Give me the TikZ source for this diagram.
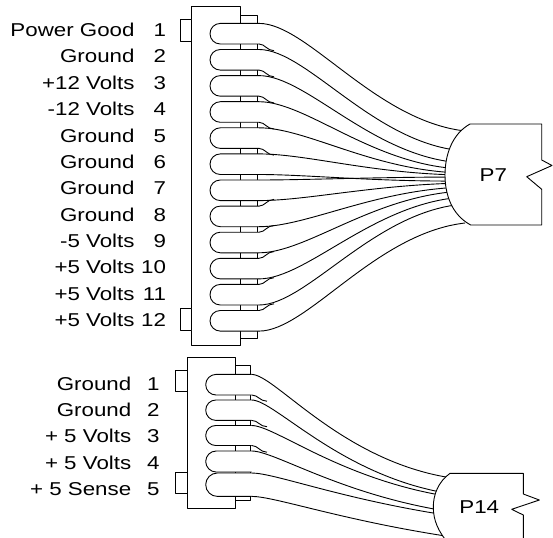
\documentclass[tikz,border=0pt]{standalone}
\usepackage{fontspec}
\setmainfont{Liberation Sans}[FakeStretch=1.2]
\begin{document}
\begin{tikzpicture}[x=1pt,y=-1pt,line width=0.9pt,line join=round,
  lbl/.style={font=\fontsize{18.6}{20}\selectfont, inner sep=0pt, anchor=base east},
  part/.style={draw, fill=white},
  ptxt/.style={font=\fontsize{18.6}{20}\selectfont, inner sep=0pt}]
\useasboundingbox (0,0) rectangle (553,537);
\clip (0,0) rectangle (553,537);

% ---------- labels P7 ----------
\foreach \i/\t in {1/Power Good,2/Ground,3/+12 Volts,4/-12 Volts,5/Ground,6/Ground,
  7/Ground,8/Ground,9/-5 Volts,10/+5 Volts,11/+5 Volts,12/+5 Volts}{
  \pgfmathsetmacro\yy{36.6+26.36*(\i-1)}
  \node[lbl] (la\i) at (135,\yy) {\t};
  \node[lbl] (na\i) at (166.5,\yy) {\i};
}
% ---------- labels P14 ----------
\foreach \i/\t in {1/Ground,2/Ground,3/+ 5 Volts,4/+ 5 Volts,5/+ 5 Sense}{
  \pgfmathsetmacro\yy{390.7+26.1*(\i-1)}
  \node[lbl] (lb\i) at (131.7,\yy) {\t};
  \node[lbl] (nb\i) at (160,\yy) {\i};
}

% ---------- P7 housing ----------
\draw[part] (191.7,6.7) rectangle (240.7,345.7);
\draw[part] (240.7,15) rectangle (257.3,338);
\draw[part] (180,19) rectangle (191.7,41.3);
\draw[part] (180,308.3) rectangle (191.7,330.7);

% loops
\foreach \i in {1,...,12}{
  \pgfmathsetmacro\yc{33.7+26.1*(\i-1)}
  \pgfmathsetmacro\k{0.5523*10.3}
  \path[part] (259,\yc-10.3) -- (220.3,\yc-10.3)
    .. controls (220.3-\k,\yc-10.3) and (210,\yc-\k) .. (210,\yc)
    .. controls (210,\yc+\k) and (220.3-\k,\yc+10.3) .. (220.3,\yc+10.3)
    -- (259,\yc+10.3);
}
% upper wires: top edge + merge wedge
\foreach \i/\T in {1/131,2/151,3/163,4/169,5/173}{
  \pgfmathsetmacro\yc{33.7+26.1*(\i-1)}
  \pgfmathsetmacro\ys{\yc-10.3}
  \pgfmathsetmacro\yw{\yc+10.3}
  \pgfmathsetmacro\ym{\yc+26.1-10.3+1.2}
  \pgfmathsetmacro\ct{\T-90*(177-\T)/400}
  \draw (259,\ys) .. controls (307.3,\ys) and (375,\ct) .. (465,\T);
  \draw (259,\yw) .. controls (265,\yw) and (267,\ym) .. (274,\ym);
}
% middle wires 6 and 7: both edges
\foreach \i/\T/\B in {6/175/181,7/177/183}{
  \pgfmathsetmacro\yc{33.7+26.1*(\i-1)}
  \pgfmathsetmacro\ys{\yc-10.3}
  \pgfmathsetmacro\yw{\yc+10.3}
  \pgfmathsetmacro\ct{\T-90*(177-\T)/400}
  \pgfmathsetmacro\cb{\B-90*(177-\B)/400}
  \draw (259,\ys) .. controls (307.3,\ys) and (375,\ct) .. (465,\T);
  \draw (259,\yw) .. controls (307.3,\yw) and (375,\cb) .. (465,\B);
}
% lower wires: bottom edge + merge wedge
\foreach \i/\B in {8/187,9/191,10/197,11/204,12/223}{
  \pgfmathsetmacro\yc{33.7+26.1*(\i-1)}
  \pgfmathsetmacro\ys{\yc-10.3}
  \pgfmathsetmacro\yw{\yc+10.3}
  \pgfmathsetmacro\ym{\yc-26.1+10.3-1.2}
  \pgfmathsetmacro\cb{\B-90*(177-\B)/400}
  \draw (259,\yw) .. controls (307.3,\yw) and (375,\cb) .. (465,\B);
  \draw (259,\ys) .. controls (265,\ys) and (267,\ym) .. (274,\ym);
}
% P7 plug
\draw[part] (470,124) -- (541.7,124) -- (541.7,160) -- (552,165.5) -- (526.7,176.7)
  -- (541.7,189.3) -- (541.7,225) -- (470.7,225)
  .. controls (452,215) and (445,195) .. (445,175)
  .. controls (445,155) and (452,134) .. (470,124) -- cycle;
\node[ptxt] (p7) at (493.3,175) {P7};

% ---------- P14 housing ----------
\draw[part] (187.3,357.3) rectangle (235,508.3);
\draw[part] (235,365.7) rectangle (250,500);
\draw[part] (175.7,370.7) rectangle (187.3,391.7);
\draw[part] (175.7,472.3) rectangle (187.3,493.3);

\foreach \i/\yc/\h in {1/384.7/10.3,2/410.2/10.2,3/435.5/10,4/461.5/10.5,5/484.7/11.7}{
  \pgfmathsetmacro\k{0.5523*\h}
  \path[part] (251.7,\yc-\h) -- (205.7+\h,\yc-\h)
    .. controls (205.7+\h-\k,\yc-\h) and (205.7,\yc-\k) .. (205.7,\yc)
    .. controls (205.7,\yc+\k) and (205.7+\h-\k,\yc+\h) .. (205.7+\h,\yc+\h)
    -- (251.7,\yc+\h);
}
% top edges
\foreach \ys/\T in {374.4/478,400/494,425.5/497,451/512,473/516}{
  \draw (251.7,\ys) .. controls (275,\ys) and (342,\T-16.5) .. (452,\T);
}
% bottom edge of last wire
\draw (251.7,496.4) .. controls (275,496.4) and (342,520.5) .. (452,537);
% merge wedges
\foreach \yw/\ym in {395/401.2,420.4/426.7,445.5/452.2}{
  \draw (251.7,\yw) .. controls (258,\yw) and (260,\ym) .. (267,\ym);
}
% P14 plug
\draw[part] (450,545) .. controls (438,532) and (433.3,520) .. (433.3,507)
  .. controls (433.3,495) and (438,482) .. (450,473.3)
  -- (523.3,473.3) -- (523.3,494) -- (539.3,500) -- (511.7,509.3)
  -- (523.3,515) -- (523.3,560) -- (452,560) -- cycle;
\node[ptxt] (p14) at (479.3,507) {P14};
\end{tikzpicture}
\end{document}
